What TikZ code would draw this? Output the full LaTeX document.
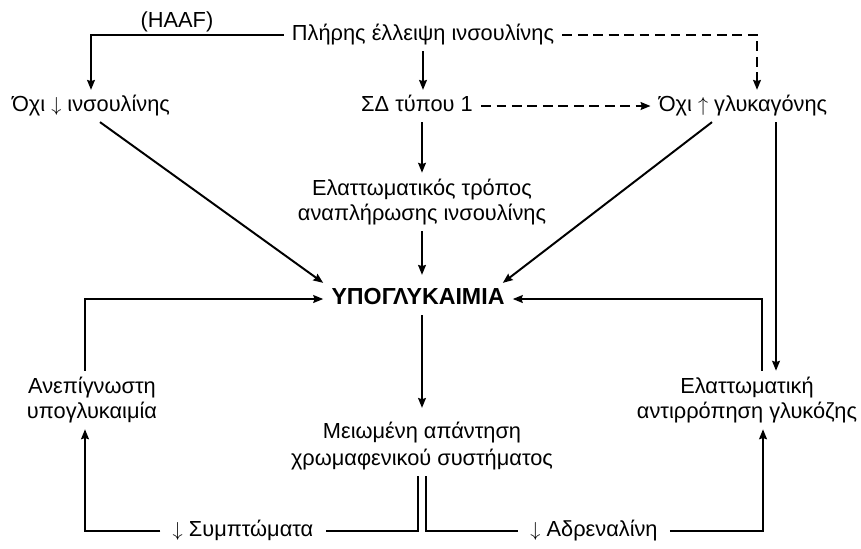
\documentclass[tikz,border=0pt]{standalone}
\usepackage{fontspec}
\setmainfont{Liberation Sans}
\usepackage{amsmath}
\usepackage{tikz}
\usetikzlibrary{arrows.meta,calc,positioning}

\begin{document}
\begin{tikzpicture}[x=0.25mm, y=-0.25mm,
        lbl/.style={font=\fontsize{15.5}{19}\selectfont, inner xsep=2mm, inner ysep=1.5mm, text height=11pt, text depth=3pt},
        lbltwo/.style={font=\fontsize{15.5}{17.8}\selectfont, align=center, inner xsep=2mm, inner ysep=1.5mm},
        link/.style={line width=1.4pt},
        arr/.style={link, -{Stealth[length=7pt,width=5.5pt,inset=0.8pt]}},
        dsh/.style={dash pattern=on 7pt off 4pt}]
        \useasboundingbox (0,0) rectangle (861,548);

        % top row
        \node[lbl] (haaf) at (177,22) {(HAAF)};
        \node[lbl] (full) at (423,35) {Πλήρης έλλειψη ινσουλίνης};
        \node[lbl] (noins) at (91,106) {Όχι $\downarrow$ ινσουλίνης};
        \node[lbl] (dm1) at (417,106) {ΣΔ τύπου 1};
        \node[lbl] (noglu) at (743,106) {Όχι $\uparrow$ γλυκαγόνης};
        \node[lbltwo] (defect) at (422,202) {Ελαττωματικός τρόπος\\αναπλήρωσης ινσουλίνης};

        % centre
        \node[lbl, font=\fontsize{16.5}{19}\selectfont\bfseries] (hypo) at (418,299) {ΥΠΟΓΛΥΚΑΙΜΙΑ};

        % lower part
        \node[lbltwo] (unaware) at (92,400) {Ανεπίγνωστη\\υπογλυκαιμία};
        \node[lbltwo] (defcomp) at (747,400) {Ελαττωματική\\αντιρρόπηση γλυκόζης};
        \node[lbltwo, font=\fontsize{15.5}{19}\selectfont] (reduced) at (422,446) {Μειωμένη απάντηση\\χρωμαφενικού συστήματος};
        \node[lbl, inner xsep=3mm] (symp) at (243,531) {$\downarrow$ Συμπτώματα};
        \node[lbl, inner xsep=3mm] (adr) at (594,531) {$\downarrow$ Αδρεναλίνη};

        \draw[arr] (full.west) -| (noins.north);
        \draw[arr] (full.south) -- (full.south |- dm1.north);
        \draw[arr, dsh] (full.east) -| ($(noglu.north)+(14,0)$);
        \draw[arr, dsh] (dm1.east) -- (noglu.west);
        \draw[arr] (dm1.south -| defect.north) -- (defect.north);
        \draw[arr, shorten >=2mm] (defect.south) -- (defect.south |- hypo.north);

        \draw[arr] ($(noins.south)+(9,0)$) -- (hypo.north west);
        \draw[arr] ($(noglu.south)+(-31,0)$) -- ($(hypo.north east)+(-10,0)$);
        \draw[arr] ($(noglu.south)+(33,0)$) -- ($(defcomp.north)+(29,0)$);
        \draw[arr] ($(defcomp.north)+(15,0)$) |- (hypo.east);
        \draw[arr] ($(unaware.north)+(-7,0)$) |- (hypo.west);
        \draw[arr, shorten >=2mm] (reduced.north |- hypo.south) -- (reduced.north);

        \draw[link] ($(reduced.south)+(-4,0)$) |- (symp.east);
        \draw[link] ($(reduced.south)+(4,0)$) |- (adr.west);
        \draw[arr] (symp.west) -| ($(unaware.south)+(-7,0)$);
        \draw[arr] (adr.east) -| ($(defcomp.south)+(16,0)$);
\end{tikzpicture}
\end{document}
